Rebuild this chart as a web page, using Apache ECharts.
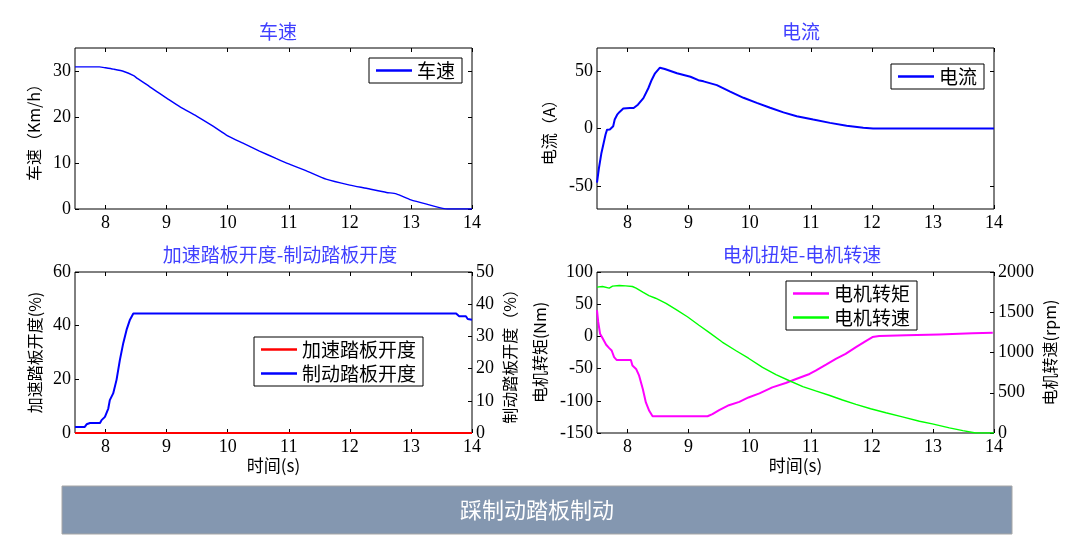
<!DOCTYPE html>
<html><head><meta charset="utf-8">
<script src="https://cdn.jsdelivr.net/npm/echarts@6/dist/echarts.min.js"></script>
<style>html,body{margin:0;padding:0;background:#fff}#c{width:1073px;height:548px}</style>
</head><body><div id="c"></div>
<script>
// ---- tick labels ----
const xTicks = [8, 9, 10, 11, 12, 13, 14];
const speedTicks = [0, 10, 20, 30];
const currentTicks = [-50, 0, 50];
const accelTicks = [0, 20, 40, 60];
const brakeTicks = [0, 10, 20, 30, 40, 50];
const torqueTicks = [-150, -100, -50, 0, 50, 100];
const rpmTicks = [0, 500, 1000, 1500, 2000];

// ---- 车速 ----
const speedT = [7.5, 7.9, 8.0, 8.13, 8.3, 8.46, 8.52, 8.67, 8.84, 9.0, 9.22, 9.49, 9.76, 10.0, 10.25, 10.52, 10.79, 11.0, 11.29, 11.61, 12.0, 12.27, 12.6, 12.76, 13.0, 13.3, 13.52, 13.6, 14.0];
const speedV = [30.9, 30.9, 30.7, 30.4, 29.9, 29.0, 28.4, 27.1, 25.5, 24.1, 22.2, 20.2, 18.0, 15.9, 14.3, 12.6, 11.0, 9.8, 8.3, 6.5, 5.2, 4.5, 3.6, 3.3, 2.0, 0.9, 0.15, 0, 0];

// ---- 电流 ----
const currentT = [7.5, 7.53, 7.57, 7.61, 7.64, 7.665, 7.71, 7.765, 7.79, 7.83, 7.87, 7.93, 7.96, 8.04, 8.1, 8.17, 8.26, 8.34, 8.395, 8.45, 8.53, 8.61, 8.81, 9.03, 9.16, 9.244, 9.462, 9.68, 9.898, 10.116, 10.334, 10.552, 10.77, 11.04, 11.315, 11.587, 11.86, 12.02, 14.0];
const currentV = [-47, -35, -22, -12.4, -5.2, -1, -0.9, 2, 7.8, 12, 14.4, 17.3, 18.7, 17.8, 17.8, 20.7, 26.4, 35, 42.2, 48, 52.9, 51.7, 48, 45, 42, 41, 37.7, 32, 26.7, 22.3, 18, 14, 10.7, 7.8, 4.9, 2.3, 0.6, 0, 0];

// ---- 加速踏板开度 / 制动踏板开度 ----
const accelT = [7.5, 14.0];
const accelV = [0, 0];
const brakeT = [7.5, 7.66, 7.69, 7.745, 7.91, 7.935, 7.99, 8.045, 8.07, 8.125, 8.18, 8.235, 8.29, 8.345, 8.40, 8.455, 13.69, 13.715, 13.74, 13.79, 13.90, 13.93, 14.0];
const brakeV = [1.9, 1.9, 2.7, 3.1, 3.1, 4.0, 5.0, 7.6, 10.2, 12.3, 16.5, 22.7, 27.9, 32.1, 35.2, 37.1, 37.1, 36.5, 37.1, 36.25, 36.25, 35.4, 35.2];

// ---- 电机转矩 / 电机转速 ----
const torqueT = [7.5, 7.52, 7.55, 7.59, 7.65, 7.70, 7.74, 7.78, 7.82, 8.055, 8.08, 8.14, 8.19, 8.25, 8.30, 8.355, 8.41, 9.31, 9.39, 9.50, 9.66, 9.83, 9.98, 10.16, 10.37, 10.59, 10.76, 10.98, 11.08, 11.25, 11.41, 11.57, 11.74, 11.90, 12.01, 12.12, 12.56, 13.1, 13.65, 13.98];
const torqueV = [40.6, 22.4, 4.2, -2.6, -13, -18.2, -21.9, -32.3, -36.5, -36.5, -45.3, -50.5, -61, -81.8, -102.6, -115.6, -124, -124, -120.8, -114.6, -106.8, -101.6, -94.8, -88.5, -79.2, -72.4, -66.1, -58.3, -53.1, -43.8, -34.9, -27.1, -16.7, -7.3, -1, 0.5, 1.6, 3.1, 4.7, 5.7];
const rpmT = [7.5, 7.59, 7.70, 7.755, 7.865, 7.97, 8.08, 8.14, 8.25, 8.35, 8.46, 8.63, 8.79, 8.98, 9.17, 9.34, 9.55, 9.77, 9.98, 10.21, 10.43, 10.65, 10.87, 11.08, 11.30, 11.52, 11.74, 11.98, 12.23, 12.50, 12.78, 12.99, 13.27, 13.49, 13.7, 14.0];
const rpmV = [1812, 1820, 1799, 1824, 1833, 1828, 1820, 1799, 1749, 1707, 1674, 1611, 1536, 1444, 1339, 1247, 1130, 1025, 929, 816, 724, 649, 577, 523, 469, 410, 356, 301, 251, 201, 146, 113, 63, 29, 0, 0];

const titles = ['车速', '电流', '加速踏板开度-制动踏板开度', '电机扭矩-电机转速'];
const bannerText = '踩制动踏板制动';

function pairs(t, v) { return t.map((x, i) => [x, v[i]]); }

const serif = 'Liberation Serif';
const cjk = '"Noto Sans CJK SC"';
const tickFont = { color: '#000', fontFamily: serif, fontSize: 18, formatter: v => String(v) };
const nameFont = { color: '#000', fontFamily: cjk, fontSize: 16 };

const grids = [
  { left: 75, top: 48, width: 397, height: 161 },
  { left: 597, top: 48, width: 397, height: 161 },
  { left: 75, top: 272, width: 397, height: 161 },
  { left: 597, top: 272, width: 397, height: 161 }
].map(g => Object.assign({ show: true, borderColor: '#000', borderWidth: 1, backgroundColor: '#fff' }, g));

function xAx(grid, pos, name) {
  return {
    type: 'value', gridIndex: grid, min: 7.5, max: 14, position: pos,
    axisLine: { show: false, onZero: false }, splitLine: { show: false },
    axisTick: { inside: true, length: 4, customValues: xTicks, lineStyle: { color: '#000' } },
    axisLabel: pos === 'bottom' ? Object.assign({ customValues: xTicks, margin: 5 }, tickFont) : { show: false },
    name: name || '', nameLocation: 'middle', nameGap: 24,
    nameTextStyle: { color: '#000', fontFamily: cjk, fontSize: 17 }
  };
}
function yAx(grid, pos, min, max, ticks, showLabel, name, gap) {
  return {
    type: 'value', gridIndex: grid, min: min, max: max, position: pos,
    axisLine: { show: false, onZero: false }, splitLine: { show: false },
    axisTick: { inside: true, length: 4, customValues: ticks, lineStyle: { color: '#000' } },
    axisLabel: showLabel ? Object.assign({ customValues: ticks, margin: 4 }, tickFont) : { show: false },
    name: name || '', nameLocation: 'middle', nameGap: gap || 40, nameRotate: 90,
    nameTextStyle: nameFont
  };
}

const legendBase = {
  orient: 'vertical', borderColor: '#000', borderWidth: 1, backgroundColor: '#fff',
  padding: [3, 7, 3, 7], icon: 'rect', itemWidth: 36, itemHeight: 2.5, itemGap: 5, selectedMode: false,
  textStyle: { color: '#000', fontFamily: cjk, fontSize: 19 }
};

const option = {
  animation: false,
  backgroundColor: '#fff',
  title: [
    { text: titles[0], left: 273, top: 17, textAlign: 'center' },
    { text: titles[1], left: 796, top: 17, textAlign: 'center' },
    { text: titles[2], left: 275, top: 240, textAlign: 'center' },
    { text: titles[3], left: 797, top: 240, textAlign: 'center' }
  ].map(t => Object.assign(t, { textStyle: { color: '#4040ff', fontFamily: cjk, fontSize: 19, fontWeight: 'normal' } })),
  grid: grids,
  xAxis: [
    xAx(0, 'bottom'), xAx(0, 'top'),
    xAx(1, 'bottom'), xAx(1, 'top'),
    xAx(2, 'bottom', '时间(s)'), xAx(2, 'top'),
    xAx(3, 'bottom', '时间(s)'), xAx(3, 'top')
  ],
  yAxis: [
    yAx(0, 'left', 0, 35, speedTicks, true, '车速（Km/h）', 33),
    yAx(0, 'right', 0, 35, speedTicks, false),
    yAx(1, 'left', -70, 70, currentTicks, true, '电流（A）', 40),
    yAx(1, 'right', -70, 70, currentTicks, false),
    yAx(2, 'left', 0, 60, accelTicks, true, '加速踏板开度(%)', 32),
    yAx(2, 'right', 0, 50, brakeTicks, true, '制动踏板开度（%）', 30),
    yAx(3, 'left', -150, 100, torqueTicks, true, '电机转矩(Nm)', 49),
    yAx(3, 'right', 0, 2000, rpmTicks, true, '电机转速(rpm)', 48)
  ],
  legend: [
    Object.assign({}, legendBase, { data: ['车速'], left: 369, top: 58 }),
    Object.assign({}, legendBase, { data: ['电流'], left: 891, top: 64 }),
    Object.assign({}, legendBase, { data: ['加速踏板开度', '制动踏板开度'], left: 254, top: 337 }),
    Object.assign({}, legendBase, { data: ['电机转矩', '电机转速'], left: 786, top: 281 })
  ],
  series: [
    { name: '车速', type: 'line', xAxisIndex: 0, yAxisIndex: 0, data: pairs(speedT, speedV), color: '#0000ff', smooth: 0.2, lineStyle: { width: 1.4 } },
    { name: '电流', type: 'line', xAxisIndex: 2, yAxisIndex: 2, data: pairs(currentT, currentV), color: '#0000ff', lineStyle: { width: 2 } },
    { name: '加速踏板开度', type: 'line', xAxisIndex: 4, yAxisIndex: 4, data: pairs(accelT, accelV), color: '#ff0000', lineStyle: { width: 2 } },
    { name: '制动踏板开度', type: 'line', xAxisIndex: 4, yAxisIndex: 5, data: pairs(brakeT, brakeV), color: '#0000ff', lineStyle: { width: 2 } },
    { name: '电机转矩', type: 'line', xAxisIndex: 6, yAxisIndex: 6, data: pairs(torqueT, torqueV), color: '#ff00ff', lineStyle: { width: 2 } },
    { name: '电机转速', type: 'line', xAxisIndex: 6, yAxisIndex: 7, data: pairs(rpmT, rpmV), color: '#00ff00', lineStyle: { width: 1.4 } }
  ].map(s => Object.assign(s, { symbol: 'none', clip: true })),
  graphic: [
    { type: 'rect', shape: { x: 62, y: 486, width: 950, height: 48 }, style: { fill: '#8497b0', stroke: '#a6a6a6', lineWidth: 1 } },
    { type: 'text', x: 537, y: 510, style: { text: bannerText, fill: '#fff', font: '22px "Noto Sans CJK SC"', textAlign: 'center', textVerticalAlign: 'middle' } }
  ]
};

const chart = echarts.init(document.getElementById('c'), null, { renderer: 'canvas' });
chart.setOption(option);
</script>
</body></html>
